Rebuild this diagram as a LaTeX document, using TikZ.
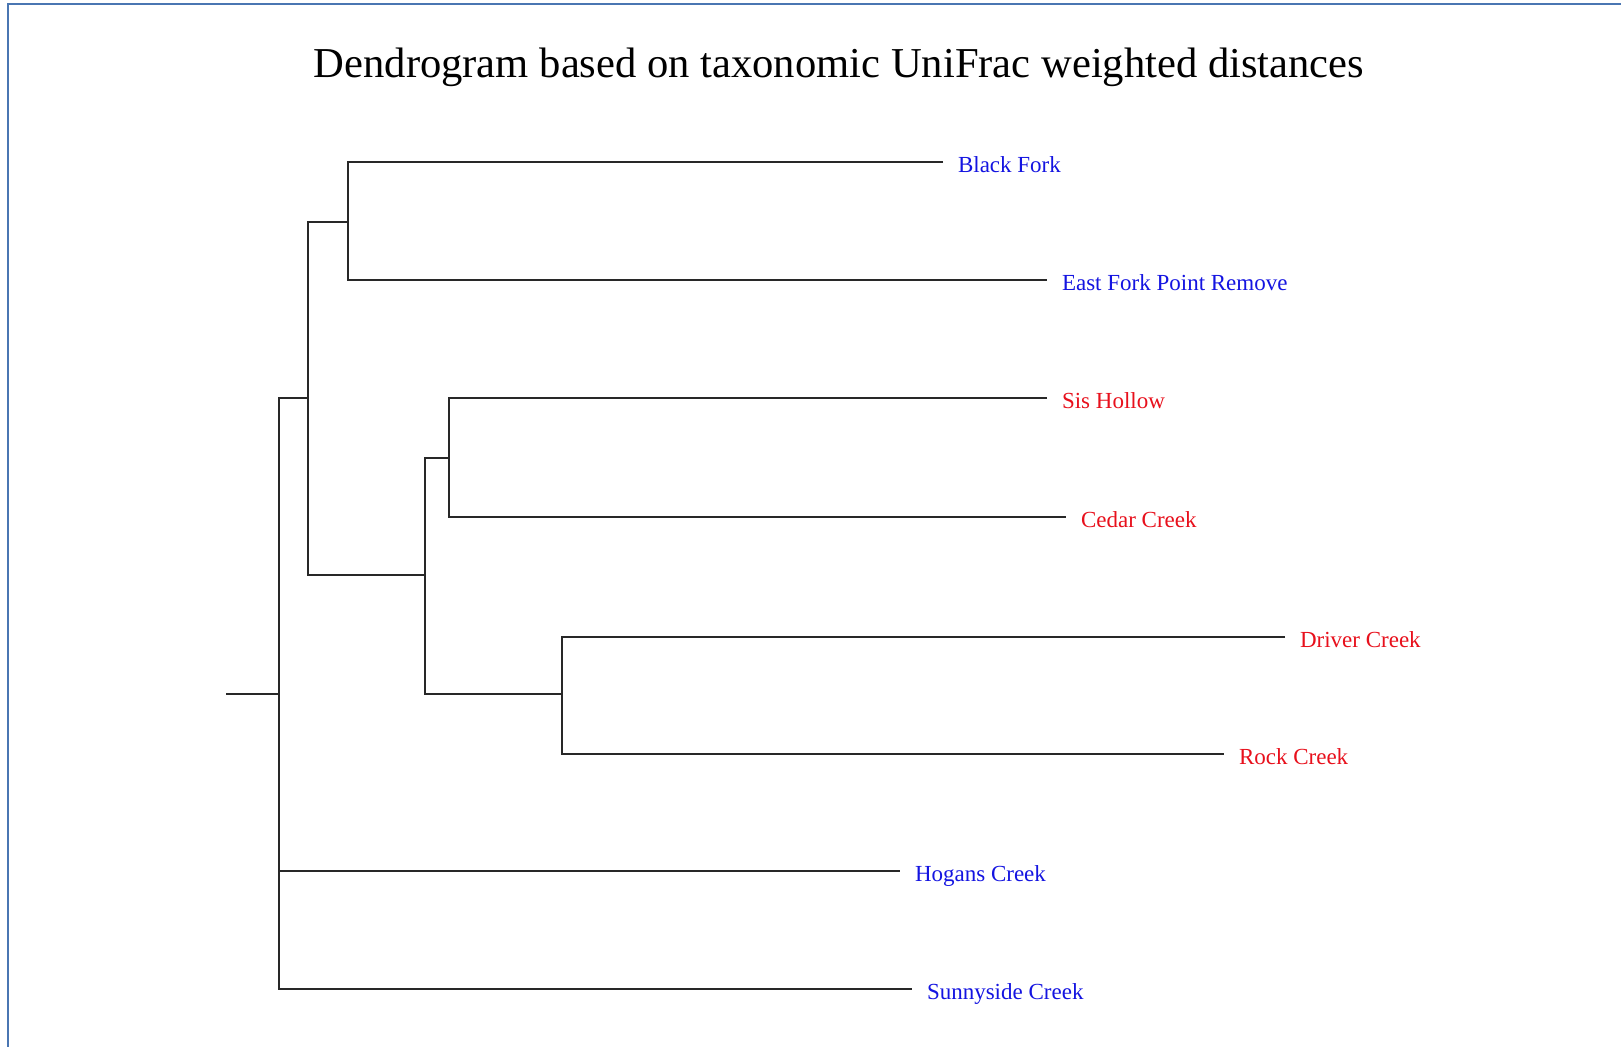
\documentclass[tikz,border=0pt]{standalone}
\usepackage{fontspec}
\setmainfont{Liberation Serif}
\usepackage{xcolor}
\usepackage{tikz}
\definecolor{frameblue}{RGB}{74, 118, 178}
\definecolor{siteblue}{RGB}{20, 20, 225}
\definecolor{sitered}{RGB}{232, 16, 28}
\definecolor{branchgray}{RGB}{40, 40, 40}
\tikzset{
	branch/.style={line width=1pt, draw=branchgray},
	site/.style={anchor=west, inner xsep=7.5pt, inner ysep=0pt, outer sep=0pt, text height=10.4pt, text depth=0pt, font=\fontsize{11.5}{13}\selectfont}
}

\begin{document}
\begin{tikzpicture}[x=0.5pt, y=-0.5pt]
	\useasboundingbox[fill=white] (0,0) rectangle (1621,1047);
	\draw[frameblue, line width=1pt] (8,1047) -- (8,4.5) -- (1621,4.5);
	
	\node[anchor=base, font=\fontsize{21.3}{26}\selectfont] (title) at (839,78) {Dendrogram based on taxonomic UniFrac weighted distances};
	
	% leaves
	\node[site, text=siteblue] (blackfork) at (943,162) {Black Fork};
	\node[site, text=siteblue] (eastfork) at (1047,280) {East Fork Point Remove};
	\node[site, text=sitered] (sishollow) at (1047,398) {Sis Hollow};
	\node[site, text=sitered] (cedar) at (1066,517) {Cedar Creek};
	\node[site, text=sitered] (driver) at (1285,637) {Driver Creek};
	\node[site, text=sitered] (rock) at (1224,754) {Rock Creek};
	\node[site, text=siteblue] (hogans) at (900,871) {Hogans Creek};
	\node[site, text=siteblue] (sunnyside) at (912,989) {Sunnyside Creek};
	
	% inner nodes
	\coordinate (stub) at (226,694);
	\coordinate (base) at (279,694);
	\coordinate (upper) at (308,398);
	\coordinate (forks) at (348,222);
	\coordinate (creeks) at (425,575);
	\coordinate (hollow) at (448.7,458);
	\coordinate (pair) at (562,694);
	
	\draw[branch] (blackfork.west) -| (forks) |- (eastfork.west);
	\draw[branch] (sishollow.west) -| (hollow) |- (cedar.west);
	\draw[branch] (driver.west) -| (pair) |- (rock.west);
	\draw[branch] (hollow) -| (creeks) |- (pair);
	\draw[branch] (forks) -| (upper) |- (creeks);
	\draw[branch] (upper) -| (base) |- (sunnyside.west);
	\draw[branch] (base |- hogans.west) -- (hogans.west);
	\draw[branch] (stub) -- (base);
\end{tikzpicture}
\end{document}
